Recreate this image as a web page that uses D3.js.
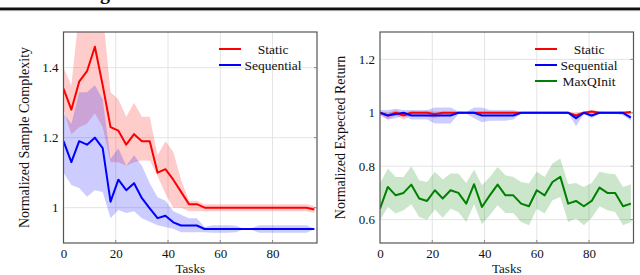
<!DOCTYPE html>
<html>
<head>
<meta charset="utf-8">
<script src="https://cdn.jsdelivr.net/npm/d3@7"></script>
<style>
  body { margin: 0; background: #fff; }
  svg { display: block; }
  text { font-family: "Liberation Serif", "DejaVu Serif", serif; fill: #111; }
</style>
</head>
<body>
<div id="chart"></div>
<script>
const tasks = [0, 3, 6, 9, 12, 15, 18, 21, 24, 27, 30, 33, 36, 39, 42, 45, 48, 51, 54, 57, 60, 63, 66, 69, 72, 75, 78, 81, 84, 87, 90, 93, 96];
const xTicks = [0, 20, 40, 60, 80];

// panel izquierdo: complejidad de muestra
const staticSc = [1.34, 1.28, 1.36, 1.39, 1.46, 1.35, 1.23, 1.22, 1.18, 1.21, 1.19, 1.19, 1.10, 1.11, 1.08, 1.045, 1.01, 1.01, 1.0, 1.0, 1.0, 1.0, 1.0, 1.0, 1.0, 1.0, 1.0, 1.0, 1.0, 1.0, 1.0, 1.0, 0.995];
const staticScHi = [1.40, 1.35, 1.56, 1.56, 1.56, 1.56, 1.33, 1.31, 1.26, 1.30, 1.26, 1.26, 1.15, 1.19, 1.16, 1.08, 1.02, 1.02, 1.01, 1.01, 1.01, 1.01, 1.01, 1.01, 1.01, 1.01, 1.01, 1.01, 1.01, 1.01, 1.01, 1.01, 1.005];
const staticScLo = [1.28, 1.21, 1.23, 1.24, 1.27, 1.23, 1.13, 1.13, 1.12, 1.13, 1.135, 1.135, 1.09, 1.04, 1.0, 1.0, 0.99, 0.99, 0.99, 0.99, 0.99, 0.99, 0.99, 0.99, 0.99, 0.99, 0.99, 0.99, 0.99, 0.99, 0.99, 0.99, 0.985];
const seqSc = [1.19, 1.13, 1.19, 1.18, 1.20, 1.17, 1.017, 1.08, 1.05, 1.07, 1.027, 0.998, 0.97, 0.977, 0.958, 0.949, 0.949, 0.949, 0.939, 0.939, 0.939, 0.939, 0.939, 0.939, 0.939, 0.939, 0.939, 0.939, 0.939, 0.939, 0.939, 0.939, 0.939];
const seqScHi = [1.27, 1.24, 1.33, 1.33, 1.35, 1.31, 1.14, 1.17, 1.12, 1.15, 1.12, 1.07, 1.03, 1.02, 0.99, 0.98, 0.97, 0.97, 0.945, 0.95, 0.95, 0.95, 0.948, 0.94, 0.942, 0.95, 0.95, 0.95, 0.95, 0.95, 0.95, 0.95, 0.94];
const seqScLo = [1.10, 1.065, 1.056, 1.031, 1.05, 1.045, 0.97, 0.993, 0.985, 0.99, 0.97, 0.96, 0.95, 0.945, 0.94, 0.93, 0.93, 0.93, 0.93, 0.928, 0.928, 0.928, 0.93, 0.938, 0.936, 0.928, 0.928, 0.928, 0.928, 0.928, 0.928, 0.928, 0.938];

// panel derecho: retorno esperado
const staticRet = [1.0, 0.99, 1.0, 0.99, 1.0, 1.0, 1.0, 0.995, 1.0, 1.0, 1.0, 1.0, 1.0, 1.0, 1.0, 1.0, 1.0, 1.0, 1.0, 1.0, 1.0, 1.0, 1.0, 1.0, 1.0, 0.99, 1.0, 1.005, 1.0, 1.0, 1.0, 1.0, 1.003];
const staticRetHi = [1.005, 1.0, 1.01, 1.0, 1.008, 1.005, 1.008, 1.005, 1.005, 1.005, 1.003, 1.003, 1.003, 1.005, 1.005, 1.005, 1.005, 1.005, 1.003, 1.0, 1.0, 1.0, 1.0, 1.0, 1.0, 1.0, 1.005, 1.01, 1.005, 1.003, 1.003, 1.005, 1.008];
const staticRetLo = [0.995, 0.975, 0.99, 0.975, 0.99, 0.99, 0.985, 0.98, 0.99, 0.99, 0.997, 0.997, 0.997, 0.995, 0.995, 0.995, 0.995, 0.995, 0.997, 1.0, 1.0, 1.0, 1.0, 1.0, 1.0, 0.975, 0.995, 1.0, 0.995, 0.997, 0.997, 0.997, 0.995];
const seqRet = [1.0, 0.99, 0.995, 1.0, 0.99, 0.99, 0.99, 0.99, 0.99, 0.99, 1.0, 1.0, 1.0, 0.99, 0.99, 0.99, 0.99, 0.99, 1.0, 1.0, 1.0, 1.0, 1.0, 1.0, 1.0, 0.98, 1.0, 0.99, 1.0, 1.0, 1.0, 1.0, 0.982];
const seqRetHi = [1.01, 1.01, 1.015, 1.01, 1.01, 1.01, 1.01, 1.02, 1.02, 1.02, 1.005, 1.003, 1.02, 1.02, 1.01, 1.01, 1.01, 1.01, 1.003, 1.0, 1.0, 1.0, 1.0, 1.0, 1.0, 0.995, 1.005, 1.0, 1.003, 1.003, 1.003, 1.003, 1.0];
const seqRetLo = [0.99, 0.975, 0.98, 0.99, 0.975, 0.975, 0.975, 0.96, 0.96, 0.96, 0.995, 0.997, 0.98, 0.965, 0.97, 0.97, 0.97, 0.975, 0.997, 1.0, 1.0, 1.0, 1.0, 1.0, 1.0, 0.95, 0.995, 0.98, 0.997, 0.997, 0.997, 0.99, 0.97];
const maxqRet = [0.641, 0.7225, 0.691, 0.70, 0.731, 0.679, 0.67, 0.71, 0.679, 0.71, 0.70, 0.66, 0.7325, 0.6475, 0.691, 0.731, 0.691, 0.691, 0.66, 0.65, 0.71, 0.691, 0.741, 0.76, 0.66, 0.67, 0.65, 0.67, 0.72, 0.70, 0.70, 0.65, 0.66];
const maxqRetHi = [0.735, 0.791, 0.76, 0.76, 0.80, 0.7475, 0.741, 0.779, 0.75, 0.7725, 0.7725, 0.7375, 0.7875, 0.729, 0.76, 0.7975, 0.766, 0.76, 0.741, 0.735, 0.779, 0.76, 0.81, 0.829, 0.7325, 0.7375, 0.7225, 0.7375, 0.779, 0.7725, 0.77, 0.7225, 0.7325];
const maxqRetLo = [0.5975, 0.6475, 0.6225, 0.635, 0.6575, 0.61, 0.60, 0.6375, 0.6075, 0.641, 0.629, 0.591, 0.6575, 0.5825, 0.616, 0.654, 0.625, 0.625, 0.591, 0.579, 0.641, 0.6225, 0.6725, 0.685, 0.591, 0.604, 0.579, 0.6075, 0.65, 0.635, 0.629, 0.579, 0.591];

const leftTicks = [1, 1.2, 1.4];
const rightTicks = [0.6, 0.8, 1, 1.2];

const rojo = "#ff0000", azul = "#0000ff", verde = "#008000";

const svg = d3.select("#chart").append("svg")
  .attr("width", 640).attr("height", 275);

// encabezado cortado de la página
svg.append("text").attr("x", 100).attr("y", -1.5)
  .attr("font-size", 20).attr("font-weight", "bold").text("g");
svg.append("rect").attr("x", 0).attr("y", 7.5).attr("width", 640).attr("height", 2.6).attr("fill", "#111");
svg.append("rect").attr("x", 0).attr("y", 10.1).attr("width", 640).attr("height", 1).attr("fill", "#999");

const panel = (cfg) => {
  const x = d3.scaleLinear().domain([0, 97]).range([cfg.left, cfg.right]);
  const y = d3.scaleLinear().domain(cfg.yDomain).range([243, 32]);
  const g = svg.append("g");
  const clipId = "clip" + Math.round(cfg.left);
  g.append("clipPath").attr("id", clipId).append("rect")
    .attr("x", cfg.left).attr("y", 32).attr("width", cfg.right - cfg.left).attr("height", 211);

  // rejilla
  g.selectAll(".gx").data(xTicks.slice(1)).join("line")
    .attr("x1", d => x(d)).attr("x2", d => x(d)).attr("y1", 32).attr("y2", 243)
    .attr("stroke", "#e4e4e4").attr("stroke-width", 1);
  g.selectAll(".gy").data(cfg.yTicks).join("line")
    .attr("x1", cfg.left).attr("x2", cfg.right).attr("y1", d => y(d)).attr("y2", d => y(d))
    .attr("stroke", "#e4e4e4").attr("stroke-width", 1);

  const plot = g.append("g").attr("clip-path", `url(#${clipId})`);
  cfg.series.forEach(s => {
    const area = d3.area().x((d, i) => x(tasks[i])).y0((d, i) => y(s.lo[i])).y1(d => y(d));
    plot.append("path").datum(s.hi).attr("d", area)
      .attr("fill", s.color).attr("fill-opacity", 0.2);
  });
  cfg.series.forEach(s => {
    const line = d3.line().x((d, i) => x(tasks[i])).y(d => y(d));
    plot.append("path").datum(s.mean).attr("d", line)
      .attr("fill", "none").attr("stroke", s.color).attr("stroke-width", 2)
      .attr("stroke-linejoin", "round");
  });

  // marco y marcas
  g.append("rect").attr("x", cfg.left).attr("y", 32)
    .attr("width", cfg.right - cfg.left).attr("height", 211)
    .attr("fill", "none").attr("stroke", "#555").attr("stroke-width", 1.2);
  const xAxis = d3.axisBottom(x).tickValues(xTicks).tickSize(0).tickPadding(6);
  const ax = g.append("g").attr("transform", "translate(0,243)").call(xAxis);
  ax.select(".domain").remove();
  ax.selectAll("text").attr("font-size", 13).attr("fill", "#111").attr("font-family", "Liberation Serif");
  const yAxis = d3.axisLeft(y).tickValues(cfg.yTicks).tickSize(0).tickPadding(5).tickFormat(d3.format("~g"));
  const ay = g.append("g").attr("transform", `translate(${cfg.left},0)`).call(yAxis);
  ay.select(".domain").remove();
  ay.selectAll("text").attr("font-size", 13).attr("fill", "#111").attr("font-family", "Liberation Serif");
  g.selectAll(".tk").data(cfg.yTicks).join("line")
    .attr("x1", cfg.right - 3).attr("x2", cfg.right).attr("y1", d => y(d)).attr("y2", d => y(d))
    .attr("stroke", "#888");
  g.selectAll(".tk2").data(xTicks.slice(1)).join("line")
    .attr("x1", d => x(d)).attr("x2", d => x(d)).attr("y1", 243).attr("y2", 240)
    .attr("stroke", "#888");

  g.append("text").attr("x", (cfg.left + cfg.right) / 2).attr("y", 272.5)
    .attr("text-anchor", "middle").attr("font-size", 13).text("Tasks");
  g.append("text")
    .attr("transform", `translate(${cfg.left - 35},137.5) rotate(-90)`)
    .attr("text-anchor", "middle").attr("font-size", 14).text(cfg.yLabel);

  // leyenda
  cfg.series.forEach((s, i) => {
    const ly = 49 + i * 16;
    g.append("line").attr("x1", cfg.legX).attr("x2", cfg.legX + 22)
      .attr("y1", ly).attr("y2", ly).attr("stroke", s.color).attr("stroke-width", 2);
    g.append("text").attr("x", cfg.legX + 54).attr("y", ly + 4.5)
      .attr("text-anchor", "middle").attr("font-size", 13.5).text(s.name);
  });
};

panel({
  left: 63.5, right: 317, yDomain: [0.899, 1.502], yTicks: leftTicks,
  yLabel: "Normalized Sample Complexity", legX: 219,
  series: [
    { name: "Static", color: rojo, mean: staticSc, hi: staticScHi, lo: staticScLo },
    { name: "Sequential", color: azul, mean: seqSc, hi: seqScHi, lo: seqScLo }
  ]
});

panel({
  left: 380, right: 633.5, yDomain: [0.5125, 1.3025], yTicks: rightTicks,
  yLabel: "Normalized Expected Return", legX: 535,
  series: [
    { name: "Static", color: rojo, mean: staticRet, hi: staticRetHi, lo: staticRetLo },
    { name: "Sequential", color: azul, mean: seqRet, hi: seqRetHi, lo: seqRetLo },
    { name: "MaxQInit", color: verde, mean: maxqRet, hi: maxqRetHi, lo: maxqRetLo }
  ]
});
</script>
</body>
</html>
